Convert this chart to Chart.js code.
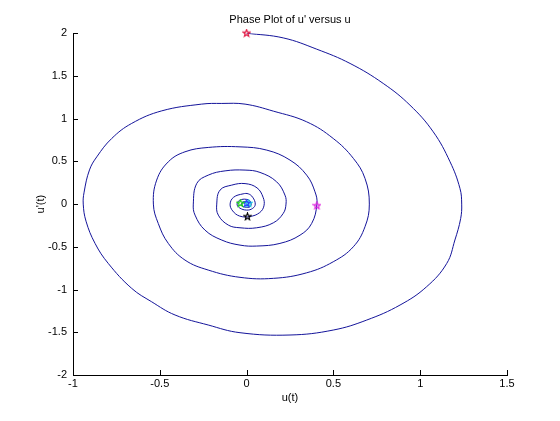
<!DOCTYPE html>
<html>
<head>
<meta charset="utf-8">
<script src="https://cdn.jsdelivr.net/npm/chart.js@4/dist/chart.umd.min.js"></script>
<style>
    body { margin: 0; background: #ffffff; }
</style>
</head>
<body>
<canvas id="phaseChart" width="560" height="421"></canvas>
<script>
// u(t) and u'(t), in drawing order
var uVals = [
    0.0, 0.211, 0.404, 0.596, 0.787, 0.941, 1.075, 1.172, 1.229, 1.239, 1.233,
    1.2, 1.153, 1.037, 0.884, 0.692, 0.499, 0.25, -0.038, -0.221, -0.412,
    -0.547, -0.662, -0.797, -0.873, -0.925, -0.941, -0.936, -0.905, -0.863, -0.777, -0.662,
    -0.489, -0.259, -0.143, -0.009,
    0.154, 0.346, 0.499, 0.615, 0.682, 0.707, 0.682, 0.615, 0.499, 0.346,
    0.154, -0.038, -0.221, -0.355, -0.451, -0.509, -0.537, -0.518, -0.451, -0.355,
    -0.221, -0.038,
    0.116, 0.25, 0.346, 0.394, 0.405, 0.375, 0.308, 0.192, 0.058, -0.038,
    -0.143, -0.24, -0.297, -0.307, -0.287, -0.221, -0.124, -0.009,
    0.077, 0.173, 0.221, 0.227, 0.211, 0.154, 0.058, -0.038, -0.105, -0.163,
    -0.172, -0.153, -0.086, -0.009,
    0.06, 0.095, 0.1, 0.075, 0.02, -0.04, -0.08, -0.095, -0.075, -0.02, 0.01,
    0.035, 0.05, 0.035, 0.0, -0.04, -0.055, -0.04, 0.0,
    0.025, 0.02, -0.01, -0.03, -0.02, 0.005, 0.012, 0.0
];
var duVals = [
    2.0, 1.945, 1.813, 1.646, 1.412, 1.158, 0.846, 0.495, 0.184, 0.0, -0.17,
    -0.42, -0.694, -0.967, -1.181, -1.357, -1.474, -1.532, -1.505, -1.415, -1.298,
    -1.143, -0.986, -0.694, -0.46, -0.2, 0.0, 0.14, 0.4, 0.553, 0.768, 0.944,
    1.091, 1.17, 1.178, 1.17,
    1.088, 0.963, 0.768, 0.535, 0.301, 0.0, -0.265, -0.499, -0.675, -0.804,
    -0.869, -0.857, -0.772, -0.655, -0.46, -0.226, 0.0, 0.281, 0.495, 0.612,
    0.663, 0.67,
    0.632, 0.515, 0.339, 0.144, 0.0, -0.226, -0.363, -0.46, -0.491, -0.48,
    -0.421, -0.304, -0.129, 0.0, 0.242, 0.339, 0.389, 0.398,
    0.371, 0.261, 0.105, 0.0, -0.109, -0.219, -0.277, -0.277, -0.246, -0.129,
    0.0, 0.164, 0.222, 0.24,
    0.19, 0.08, -0.02, -0.1, -0.145, -0.14, -0.08, 0.0, 0.08, 0.12, 0.12,
    0.08, 0.0, -0.05, -0.07, -0.045, 0.0, 0.045, 0.055,
    0.02, -0.03, -0.035, -0.01, 0.025, 0.025, 0.0, -0.01
];

// star markers
var markerU = [0.0, 0.405, 0.005, -0.035, 0.0, 0.012];
var markerDu = [2.0, -0.02, -0.148, 0.008, 0.008, 0.008];
var markerColors = ['#e0103c', '#e020e0', '#000000', '#20d020', '#2040ff', '#20d0e0'];

var xTicks = [-1, -0.5, 0, 0.5, 1, 1.5];
var yTicks = [-2, -1.5, -1, -0.5, 0, 0.5, 1, 1.5, 2];

function makeStar(color) {
    var c = document.createElement('canvas');
    c.width = 9;
    c.height = 9;
    var g = c.getContext('2d');
    g.strokeStyle = color;
    g.lineWidth = 1.2;
    g.beginPath();
    for (var i = 0; i < 10; i++) {
        var r = i % 2 ? 1.5 : 3.6;
        var a = -Math.PI / 2 + i * Math.PI / 5;
        g.lineTo(4.5 + r * Math.cos(a), 4.5 + r * Math.sin(a));
    }
    g.closePath();
    g.stroke();
    return c;
}

var spiral = uVals.map((u, i) => ({ x: u, y: duVals[i] }));

var datasets = markerU.map((u, i) => ({
    data: [{ x: u, y: markerDu[i] }],
    pointStyle: makeStar(markerColors[i]),
    pointRadius: 4,
    showLine: false,
    clip: false,
    order: 1
}));

datasets.push({
    data: spiral,
    borderColor: '#14149a',
    borderWidth: 1,
    showLine: true,
    fill: false,
    tension: 0.4,
    pointRadius: 0,
    order: 2
});

// matlab style ticks pointing into the plot
var innerTicks = {
    id: 'innerTicks',
    afterDraw(chart) {
        var ctx = chart.ctx;
        var xs = chart.scales.x, ys = chart.scales.y;
        var area = chart.chartArea;
        ctx.save();
        ctx.strokeStyle = '#000000';
        ctx.lineWidth = 1;
        ctx.beginPath();
        xTicks.forEach(v => {
            var px = Math.round(xs.getPixelForValue(v)) + 0.5;
            ctx.moveTo(px, area.bottom);
            ctx.lineTo(px, area.bottom - 5);
        });
        yTicks.forEach(v => {
            var py = Math.round(ys.getPixelForValue(v)) + 0.5;
            ctx.moveTo(area.left, py);
            ctx.lineTo(area.left + 5, py);
        });
        ctx.stroke();
        ctx.restore();
    }
};

var tickFont = { family: '"Liberation Sans", Arial, sans-serif', size: 11 };

var ctx = document.getElementById('phaseChart').getContext('2d');

var phaseChart = new Chart(ctx, {
    type: 'scatter',
    data: { datasets: datasets },
    plugins: [innerTicks],
    options: {
        responsive: false,
        animation: false,
        layout: {
            padding: { left: 0, right: 53, top: 0, bottom: 0 }
        },
        plugins: {
            legend: { display: false },
            tooltip: { enabled: false },
            title: {
                display: true,
                text: "Phase Plot of u' versus u",
                color: '#000000',
                fullSize: false,
                font: { family: '"Liberation Sans", Arial, sans-serif', size: 11, weight: 'normal' },
                padding: { top: 13, bottom: 7 }
            }
        },
        scales: {
            x: {
                type: 'linear',
                min: -1,
                max: 1.5,
                afterFit: function (scale) { scale.height = 46; },
                afterBuildTicks: function (scale) { scale.ticks = xTicks.map(v => ({ value: v })); },
                ticks: {
                    color: '#000000',
                    font: tickFont,
                    padding: 2,
                    maxRotation: 0,
                    minRotation: 0,
                    callback: function (value) { return String(value); }
                },
                grid: {
                    display: true,
                    drawOnChartArea: false,
                    drawTicks: false
                },
                border: { display: true, color: '#000000', width: 1 },
                title: {
                    display: true,
                    text: 'u(t)',
                    color: '#000000',
                    font: tickFont,
                    padding: { top: 0, bottom: 16 }
                }
            },
            y: {
                type: 'linear',
                min: -2,
                max: 2,
                afterFit: function (scale) { scale.width = 73; },
                afterBuildTicks: function (scale) { scale.ticks = yTicks.map(v => ({ value: v })); },
                ticks: {
                    color: '#000000',
                    font: tickFont,
                    padding: 6,
                    callback: function (value) { return String(value); }
                },
                grid: {
                    display: true,
                    drawOnChartArea: false,
                    drawTicks: false
                },
                border: { display: true, color: '#000000', width: 1 },
                title: {
                    display: true,
                    text: "u'(t)",
                    color: '#000000',
                    font: tickFont,
                    padding: { top: 34, bottom: 0 }
                }
            }
        }
    }
});
</script>
</body>
</html>
